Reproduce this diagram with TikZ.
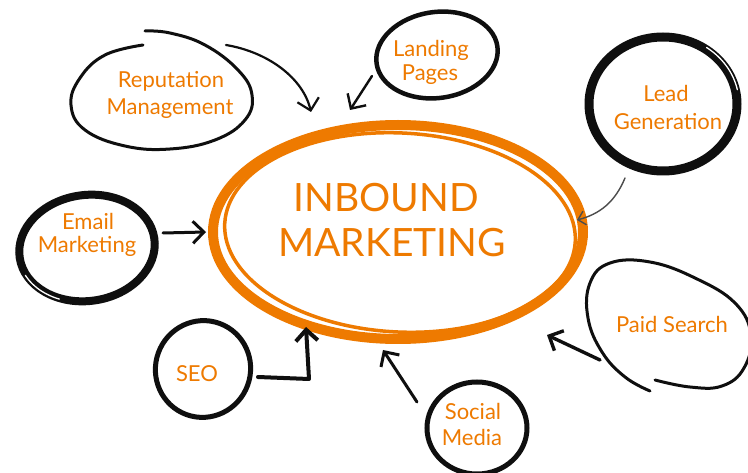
\documentclass[tikz,border=0pt]{standalone}
\usepackage{fontspec}
\setmainfont{Lato}
\usetikzlibrary{shapes.geometric,arrows.meta}
\definecolor{org}{RGB}{238,122,0}
\definecolor{ink}{RGB}{15,15,15}
\begin{document}
\begin{tikzpicture}[x=1pt,y=-1pt,
  lbl/.style={text=org, font=\fontsize{22}{27}\selectfont, inner sep=0pt, anchor=base},
  big/.style={text=org, font=\fontsize{39}{46}\selectfont, inner sep=0pt},
  bub/.style={ellipse, draw=ink, inner sep=0pt},
  loop/.style={draw=ink, line width=3pt, line cap=round, line join=round},
  gleam/.style={draw=white, line width=1.3pt, line cap=round},
  arr/.style={draw=ink, line width=2.8pt, line cap=round, line join=round,
    -{Straight Barb[length=11pt,width=22pt]}},
]
\useasboundingbox[fill=white] (0,0) rectangle (748,473);

% central ellipse
\node[ellipse, draw=org, line width=10pt, minimum width=370pt, minimum height=214pt, inner sep=0pt] (core) at (398,232) {};
\node[ellipse, draw=org, line width=3.5pt, minimum width=351pt, minimum height=199pt, inner sep=0pt, rotate=-3] (corein) at (400,232.5) {};
\node[big] (inb) at (386,198) {INBOUND};
\node[big] (mkt) at (392,243) {MARKETING};

% reputation management
\draw[loop] plot[smooth, tension=0.7] coordinates {(143,45) (105,55) (80,78) (71,105) (85,130) (125,146) (170,149) (215,140) (245,120) (252,95) (238,70) (205,45) (170,33) (145,31)};
\node[lbl] (rep1) at (171,88) {Reputation};
\node[lbl] (rep2) at (170,115) {Management};

% landing pages
\node[bub, line width=4.5pt, minimum width=122pt, minimum height=86pt, rotate=8] (land) at (437,55) {};
\node[lbl] (land1) at (431,57) {Landing};
\node[lbl] (land2) at (430,81) {Pages};

% lead generation
\node[bub, line width=9pt, minimum width=148pt, minimum height=134pt] (lead) at (663,104) {};
\draw[gleam] plot[domain=12:55, samples=20] ({663+76*cos(\x)}, {104-69*sin(\x)});
\node[lbl] (lead1) at (666,102) {Lead};
\node[lbl] (lead2) at (668,130) {Generation};

% email marketing
\node[bub, line width=8pt, minimum width=136pt, minimum height=106pt, rotate=8] (email) at (87,248) {};
\draw[gleam] plot[domain=200:240, samples=20] ({87+69*cos(\x)*cos(8)-54*sin(\x)*sin(8)}, {248-(69*cos(\x)*sin(8)+54*sin(\x)*cos(8))});
\node[lbl] (email1) at (88,230) {Email};
\node[lbl] (email2) at (87,253) {Marketing};

% SEO
\node[bub, line width=5pt, minimum width=95pt, minimum height=97pt, rotate=-20] (seo) at (203,369) {};
\node[lbl] (seo1) at (197,382) {SEO};

% social media
\node[bub, line width=5pt, minimum width=100pt, minimum height=92pt] (soc) at (477,428) {};
\node[lbl] (soc1) at (473,420) {Social};
\node[lbl] (soc2) at (472,446) {Media};

% paid search
\draw[loop] plot[smooth, tension=0.7] coordinates {(655,380) (690,387) (722,386) (744,368) (751,335) (735,303) (695,278) (650,262) (610,263) (590,283) (588,318) (602,352) (625,377) (650,391)};
\node[lbl] (paid1) at (672,333) {Paid Search};

% connector end points
\coordinate (repA) at (226,45);
\coordinate (repB) at (311,112);
\coordinate (landA) at (372,76);
\coordinate (landB) at (350,110);
\coordinate (leadA) at (625,178);
\coordinate (leadB) at (577,220);
\coordinate (emailA) at (163,233);
\coordinate (emailB) at (206,232);
\coordinate (seoA) at (258,377);
\coordinate (seoK) at (309,379);
\coordinate (seoB) at (306,327);
\coordinate (socA) at (417,402);
\coordinate (socB) at (383,350);
\coordinate (paidA) at (600,360);
\coordinate (paidB) at (547,335);

% connectors
\draw[arr, line width=2.2pt] (repA) .. controls (268,52) and (303,78) .. (repB);
\draw[arr, line width=2.4pt] (landA) -- (landB);
\draw[draw=gray!60!black, line width=1.4pt, line cap=round, -{Straight Barb[length=7pt,width=14pt]}] (leadA) .. controls (615,202) and (600,214) .. (leadB);
\draw[arr, line width=3pt] (emailA) -- (emailB);
\draw[arr, line width=4pt] (seoA) -- (seoK) -- (seoB);
\draw[arr, line width=3pt] (socA) -- (socB);
\draw[arr, line width=3.4pt] (paidA) -- (paidB);
\end{tikzpicture}
\end{document}
